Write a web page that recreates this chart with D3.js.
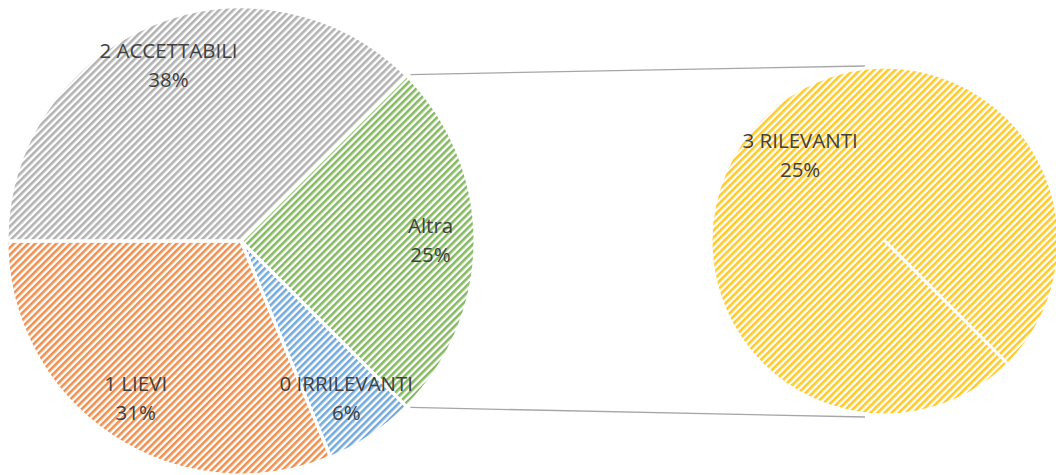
<!DOCTYPE html>
<html>
<head>
<meta charset="utf-8">
<script src="https://d3js.org/d3.v7.min.js"></script>
<style>
  body { margin: 0; background: #fff; }
  svg { display: block; }
  .lbl { font-family: "Open Sans", "Noto Sans", sans-serif; font-size: 20.5px; fill: #404040; }
</style>
</head>
<body>
<svg id="chart" width="1056" height="475"></svg>
<script>
// data
var mainCats = ["0 IRRILEVANTI", "1 LIEVI", "2 ACCETTABILI"];
var mainVals = [1, 5, 6];
var subCats = ["3 RILEVANTI"];
var subVals = [4];
var otherName = "Altra";

var colors = {
  "Altra": "#70ad47",
  "0 IRRILEVANTI": "#5b9bd5",
  "1 LIEVI": "#ed7d31",
  "2 ACCETTABILI": "#a5a5a5",
  "3 RILEVANTI": "#ffc000"
};

var total = d3.sum(mainVals) + d3.sum(subVals);
var fmt = function(v) { return Math.round(v / total * 100) + "%"; };

var svg = d3.select("#chart");
var defs = svg.append("defs");

// hatch patterns (upward diagonal)
Object.keys(colors).forEach(function(k, i) {
  var p = defs.append("pattern")
    .attr("id", "hatch" + i)
    .attr("patternUnits", "userSpaceOnUse")
    .attr("width", 5).attr("height", 5)
    .attr("patternTransform", "rotate(45)");
  p.append("rect").attr("width", 5).attr("height", 5).attr("fill", "#fff");
  p.append("rect").attr("width", 2.6).attr("height", 5).attr("fill", colors[k]).attr("opacity", 0.85);
  colors[k] = "url(#hatch" + i + ")";
});

var main = { cx: 241, cy: 241, r: 234 };
var sub = { cx: 885, cy: 241, r: 174 };

var mainData = [{ name: otherName, value: d3.sum(subVals) }];
mainCats.forEach(function(c, i) { mainData.push({ name: c, value: mainVals[i] }); });
var subData = subCats.map(function(c, i) { return { name: c, value: subVals[i] }; });

var otherAngle = d3.sum(subVals) / total * 2 * Math.PI;
var start = Math.PI / 2 - otherAngle / 2;
var subStart = Math.PI * 3 / 4;

var pieMain = d3.pie().sort(null).value(function(d) { return d.value; })
  .startAngle(start).endAngle(start + 2 * Math.PI);
var pieSub = d3.pie().sort(null).value(function(d) { return d.value; })
  .startAngle(subStart).endAngle(subStart + 2 * Math.PI);

var arcMain = d3.arc().innerRadius(0).outerRadius(main.r);
var arcSub = d3.arc().innerRadius(0).outerRadius(sub.r);

// connector lines
var a0 = start, a1 = start + otherAngle;
var p0 = [main.cx + main.r * Math.sin(a0) + 4, main.cy - main.r * Math.cos(a0) - 1];
var p1 = [main.cx + main.r * Math.sin(a1) + 4, main.cy - main.r * Math.cos(a1) + 1];
svg.append("line")
  .attr("x1", p0[0]).attr("y1", p0[1]).attr("x2", 865).attr("y2", sub.cy - sub.r - 1)
  .attr("stroke", "#a6a6a6").attr("stroke-width", 1.3);
svg.append("line")
  .attr("x1", p1[0]).attr("y1", p1[1]).attr("x2", 865).attr("y2", sub.cy + sub.r + 2)
  .attr("stroke", "#a6a6a6").attr("stroke-width", 1.3);

function drawPie(g, data, arc, r, lf) {
  g.selectAll("path.slice").data(data).enter().append("path")
    .attr("class", "slice")
    .attr("d", arc)
    .attr("fill", function(d) { return colors[d.data.name]; })
    .attr("stroke", "#fff").attr("stroke-width", 3).attr("stroke-linejoin", "round");

  // radial edge at each slice start (also shows for a lone 100% slice)
  g.selectAll("line.edge").data(data).enter().append("line")
    .attr("class", "edge")
    .attr("x1", 0).attr("y1", 0)
    .attr("x2", function(d) { return Math.sin(d.startAngle) * r; })
    .attr("y2", function(d) { return -Math.cos(d.startAngle) * r; })
    .attr("stroke", "#fff").attr("stroke-width", 3);

  var lab = g.selectAll("g.lab").data(data).enter().append("g")
    .attr("class", "lab")
    .attr("transform", function(d) {
      var m = (d.startAngle + d.endAngle) / 2;
      return "translate(" + (Math.sin(m) * r * lf) + "," + (-Math.cos(m) * r * lf) + ")";
    });
  lab.append("text").attr("class", "lbl").attr("text-anchor", "middle")
    .attr("y", -8).text(function(d) { return d.data.name; });
  lab.append("text").attr("class", "lbl").attr("text-anchor", "middle")
    .attr("y", 21).text(function(d) { return fmt(d.data.value); });
}

var gMain = svg.append("g").attr("transform", "translate(" + main.cx + "," + main.cy + ")");
drawPie(gMain, pieMain(mainData), arcMain, main.r, 0.81);

var gSub = svg.append("g").attr("transform", "translate(" + sub.cx + "," + sub.cy + ")");
drawPie(gSub, pieSub(subData), arcSub, sub.r, 0.69);
</script>
</body>
</html>
